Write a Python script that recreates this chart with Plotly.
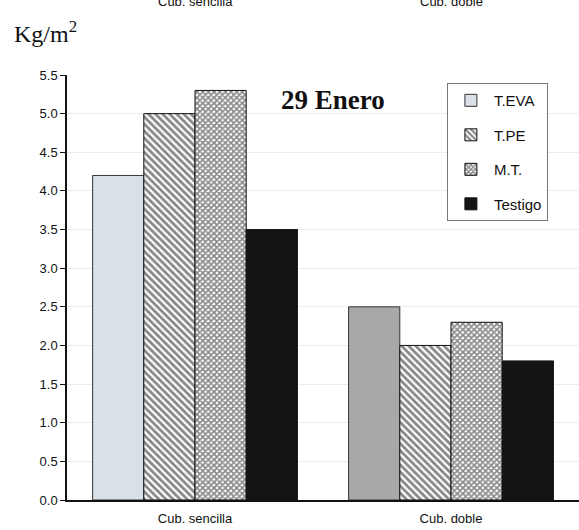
import plotly.graph_objects as go

categories = ["Cub. sencilla", "Cub. doble"]
series_names = ["T.EVA", "T.PE", "M.T.", "Testigo"]
t_eva = [4.2, 2.5]
t_pe = [5.0, 2.0]
m_t = [5.3, 2.3]
testigo = [3.5, 1.8]
y_ticks = [0.0, 0.5, 1.0, 1.5, 2.0, 2.5, 3.0, 3.5, 4.0, 4.5, 5.0, 5.5]

fig = go.Figure()
fig.add_trace(go.Bar(
    name=series_names[0], x=categories, y=t_eva, legendgroup="a",
    marker=dict(color=["#d9e0e8", "#a8a8a8"], line=dict(color="#333", width=1)),
))
fig.add_trace(go.Bar(
    name=series_names[1], x=categories, y=t_pe, legendgroup="b",
    marker=dict(color="white", line=dict(color="#111", width=1),
                pattern=dict(shape="\\", fgcolor="#111", bgcolor="white", size=5, solidity=0.55)),
))
fig.add_trace(go.Bar(
    name=series_names[2], x=categories, y=m_t, legendgroup="c",
    marker=dict(color="white", line=dict(color="#111", width=1),
                pattern=dict(shape="x", fgcolor="#111", bgcolor="white", size=4, solidity=0.65)),
))
fig.add_trace(go.Bar(
    name=series_names[3], x=categories, y=testigo, legendgroup="d",
    marker=dict(color="#141414", line=dict(color="#111", width=1)),
))

serif = "Liberation Serif, Times New Roman, serif"
sans = "Liberation Sans, Arial, sans-serif"

fig.update_layout(
    width=579, height=530,
    margin=dict(l=67, r=0, t=75, b=30),
    paper_bgcolor="white", plot_bgcolor="white",
    barmode="group", bargap=0.2, bargroupgap=0,
    font=dict(family=sans, size=13, color="#222"),
    showlegend=True,
    legend=dict(x=0.742, y=0.981, xanchor="left", yanchor="top",
                bordercolor="#777", borderwidth=1, bgcolor="white",
                font=dict(family=sans, size=15, color="#111"),
                tracegroupgap=12, traceorder="grouped", itemwidth=36),
    xaxis=dict(range=[-0.5, 1.5], showline=True, linecolor="#111", linewidth=1.5,
               ticks="", ticklabelstandoff=6,
               tickfont=dict(family=sans, size=13, color="#111"),
               showgrid=False, zeroline=False),
    yaxis=dict(range=[0, 5.5], tickvals=y_ticks, ticktext=[f"{v:.1f}" for v in y_ticks],
               showline=True, linecolor="#111", linewidth=1.5,
               ticks="outside", ticklen=5, tickcolor="#111",
               tickfont=dict(family=sans, size=13, color="#111"),
               showgrid=True, gridcolor="#ececec", zeroline=False),
    annotations=[
        dict(text="Kg/m<sup>2</sup>", xref="paper", yref="paper", x=-0.107, y=1.10,
             xanchor="left", yanchor="middle", showarrow=False,
             font=dict(family=serif, size=24, color="#111")),
        dict(text="<b>29 Enero</b>", xref="paper", yref="paper", x=0.52, y=0.941,
             xanchor="center", yanchor="middle", showarrow=False,
             font=dict(family=serif, size=27, color="#111")),
        dict(text=categories[0], xref="x", yref="paper", x=0, y=1.172,
             xanchor="center", yanchor="middle", showarrow=False,
             font=dict(family=sans, size=13, color="#111")),
        dict(text=categories[1], xref="x", yref="paper", x=1, y=1.172,
             xanchor="center", yanchor="middle", showarrow=False,
             font=dict(family=sans, size=13, color="#111")),
    ],
)

fig.write_html("out.html")
